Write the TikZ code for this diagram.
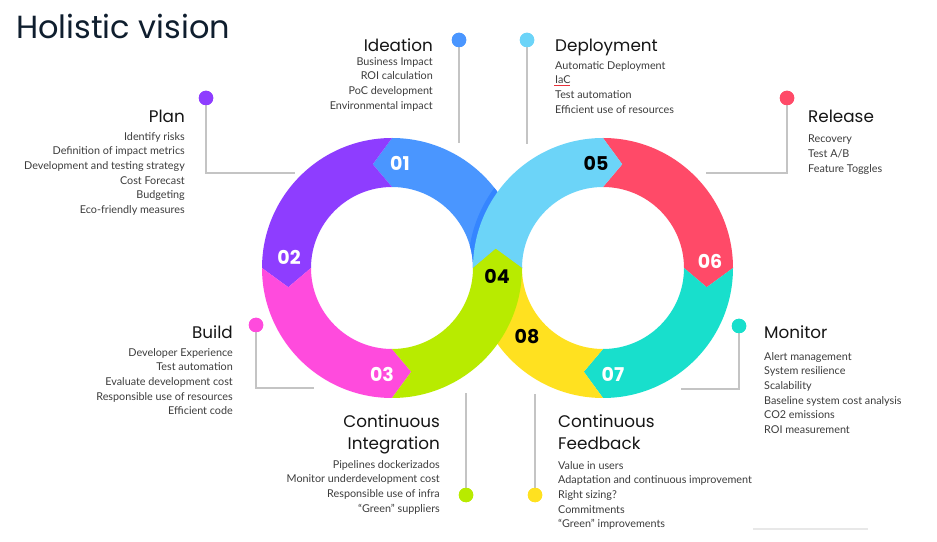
\documentclass[tikz,border=0pt]{standalone}
\usepackage{fontspec}
\setmainfont{Lato}
\newfontfamily\headfont{Poppins}
\usetikzlibrary{calc}

\definecolor{ideablue}{HTML}{4A96FF}
\definecolor{shadeblue}{HTML}{3585FF}
\definecolor{planpurple}{HTML}{8E3DFF}
\definecolor{buildpink}{HTML}{FF4BDD}
\definecolor{cilime}{HTML}{B8EB00}
\definecolor{deploysky}{HTML}{6CD4F8}
\definecolor{releasered}{HTML}{FF4A68}
\definecolor{monitorteal}{HTML}{18DFCC}
\definecolor{feedyellow}{HTML}{FFE120}
\definecolor{linegray}{HTML}{C4C4C4}
\definecolor{bodygray}{HTML}{3C3C3C}
\definecolor{headblack}{HTML}{151515}
\definecolor{titlenavy}{HTML}{0F1E2E}
\definecolor{spellred}{HTML}{E8323C}

% one arrow-shaped piece of a ring: colour, centre, trailing angle, leading angle, notch, tip
\newcommand{\ringpart}[6]{%
  \fill[#1] ($(#2)+(#3:130)$) arc[start angle=#3, end angle=#4, radius=130pt]
    -- (#6) -- ($(#2)+(#4:81)$) arc[start angle=#4, end angle=#3, radius=81pt]
    -- (#5) -- cycle;}

\tikzset{
  stepnum/.style={font=\headfont\bfseries\fontsize{19}{19}\selectfont, inner sep=0pt},
  heading/.style={font=\headfont\fontsize{16.8}{22}\selectfont, text=headblack, inner sep=0pt},
  items/.style={font=\fontsize{10.8}{14.7}\selectfont, text=bodygray, inner sep=0pt},
  leader/.style={draw=linegray, line width=1.3pt},
  stagedot/.style={circle, fill=#1, minimum size=14.5pt, inner sep=0pt},
}

\begin{document}
\begin{tikzpicture}[x=1pt, y=1pt]
    \useasboundingbox (0,0) rectangle (937,541);

    \node[anchor=base west, font=\headfont\fontsize{32}{32}\selectfont, text=titlenavy, inner sep=0pt] (title) at (16,502) {Holistic vision};

    % ring centres and chevron tips
    \coordinate (lc) at (392,273);
    \coordinate (rc) at (603,273);
    \coordinate (t1) at ($(lc)+(100.5:105.5)$);
    \coordinate (t2) at ($(lc)+(190.5:105.5)$);
    \coordinate (t3) at ($(lc)+(280.5:105.5)$);
    \coordinate (t4) at ($(lc)+(10.5:105.5)$);
    \coordinate (t5) at ($(rc)+(79.5:105.5)$);
    \coordinate (t6) at ($(rc)+(-10.5:105.5)$);
    \coordinate (t7) at ($(rc)+(259.5:105.5)$);

    % leaders
    \coordinate (planend) at (295,368);
    \coordinate (ideaend) at (459,398);
    \coordinate (deployend) at (527,397);
    \coordinate (releaseend) at (706,368);
    \coordinate (buildend) at (314,153);
    \coordinate (monitorend) at (681,152);
    \coordinate (ciend) at (466,148);
    \coordinate (cfend) at (535,147);
    \node[stagedot=planpurple] (plandot) at (206,443) {};
    \node[stagedot=ideablue] (ideadot) at (459,501) {};
    \node[stagedot=deploysky] (deploydot) at (527,501) {};
    \node[stagedot=releasered] (releasedot) at (787,443) {};
    \node[stagedot=buildpink] (builddot) at (256,216) {};
    \node[stagedot=monitorteal] (monitordot) at (739,215) {};
    \node[stagedot=cilime] (cidot) at (466,46) {};
    \node[stagedot=feedyellow] (cfdot) at (535,46) {};
    \draw[leader] (plandot.center) |- (planend);
    \draw[leader] (ideadot.center) -- (ideaend);
    \draw[leader] (deploydot.center) -- (deployend);
    \draw[leader] (releasedot.center) |- (releaseend);
    \draw[leader] (builddot.center) |- (buildend);
    \draw[leader] (monitordot.center) |- (monitorend);
    \draw[leader] (cidot.center) -- (ciend);
    \draw[leader] (cfdot.center) -- (cfend);
    \node[stagedot=planpurple] at (plandot) {};
    \node[stagedot=ideablue] at (ideadot) {};
    \node[stagedot=deploysky] at (deploydot) {};
    \node[stagedot=releasered] at (releasedot) {};
    \node[stagedot=buildpink] at (builddot) {};
    \node[stagedot=monitorteal] at (monitordot) {};
    \node[stagedot=cilime] at (cidot) {};
    \node[stagedot=feedyellow] at (cfdot) {};

    % left ring
    \ringpart{ideablue}{lc}{0}{90}{t4}{t1}
    \begin{scope}[even odd rule]
        \clip (lc) circle (130pt) (lc) circle (81pt);
        \clip (392,273) rectangle (530,410);
        \fill[shadeblue] (rc) circle (135pt);
    \end{scope}
    \ringpart{planpurple}{lc}{90}{180}{t1}{t2}
    \ringpart{buildpink}{lc}{180}{270}{t2}{t3}
    % right ring
    \ringpart{releasered}{rc}{90}{0}{t5}{t6}
    \ringpart{monitorteal}{rc}{0}{-90}{t6}{t7}
    \ringpart{feedyellow}{rc}{270}{180}{t7}{t4}
    \ringpart{deploysky}{rc}{180}{90}{t4}{t5}
    \ringpart{cilime}{lc}{270}{360}{t3}{t4}

    \node[stepnum, text=white] (n01) at (400,378) {01};
    \node[stepnum, text=white] (n02) at (289,284) {02};
    \node[stepnum, text=white] (n03) at (382,167) {03};
    \node[stepnum, text=black] (n04) at (497,265) {04};
    \node[stepnum, text=black] (n05) at (596,378) {05};
    \node[stepnum, text=white] (n06) at (710,280) {06};
    \node[stepnum, text=white] (n07) at (613,167) {07};
    \node[stepnum, text=black] (n08) at (527,204) {08};

    % texts
    \node[heading, anchor=base east] (plan) at (185,418) {Plan};
    \node[items, anchor=north east, align=right] (planlist) at (185,409) {Identify risks\\Definition of impact metrics\\Development and testing strategy\\Cost Forecast\\Budgeting\\Eco-friendly measures};
    \node[heading, anchor=base east] (idea) at (433,489) {Ideation};
    \node[items, anchor=north east, align=right] (idealist) at (433,484) {Business Impact\\ROI calculation\\PoC development\\Environmental impact};
    \node[heading, anchor=base west] (deploy) at (555,489) {Deployment};
    \node[items, anchor=north west, align=left] (deploylist) at (555,480) {Automatic Deployment\\IaC\\Test automation\\Efficient use of resources};
    \draw[spellred, line width=0.9pt] (554,455.5) -- (570,455.5);
    \node[heading, anchor=base west] (release) at (808,418) {Release};
    \node[items, anchor=north west, align=left] (releaselist) at (808,406) {Recovery\\Test A/B\\Feature Toggles};
    \node[heading, anchor=base east] (build) at (233,202) {Build};
    \node[items, anchor=north east, align=right] (buildlist) at (233,193) {Developer Experience\\Test automation\\Evaluate development cost\\Responsible use of resources\\Efficient code};
    \node[heading, anchor=base west] (monitor) at (764,202) {Monitor};
    \node[items, anchor=north west, align=left] (monitorlist) at (764,189) {Alert management\\System resilience\\Scalability\\Baseline system cost analysis\\CO2 emissions\\ROI measurement};
    \node[heading, anchor=north east, align=right] (ci) at (440,126) {Continuous\\Integration};
    \node[items, anchor=north east, align=right] (cilist) at (440,81) {Pipelines dockerizados\\Monitor underdevelopment cost\\Responsible use of infra\\“Green” suppliers};
    \node[heading, anchor=north west, align=left] (cf) at (558,126) {Continuous\\Feedback};
    \node[items, anchor=north west, align=left] (cflist) at (558,80) {Value in users\\Adaptation and continuous improvement\\Right sizing?\\Commitments\\“Green” improvements};

    \draw[color=black!9, line width=1.5pt] (753,12) -- (868,12);
\end{tikzpicture}
\end{document}
